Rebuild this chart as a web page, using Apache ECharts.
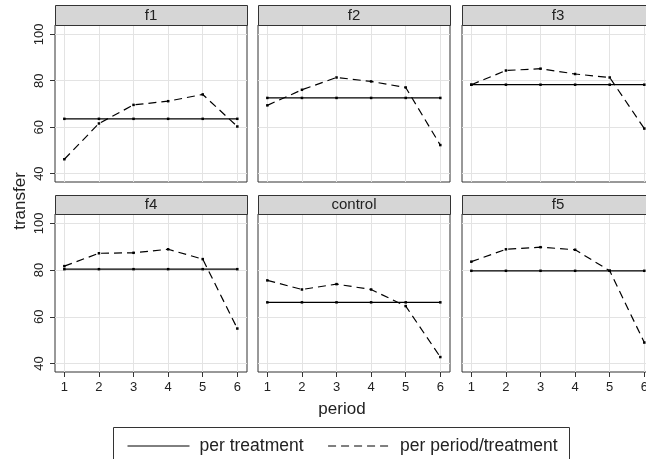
<!DOCTYPE html>
<html>
<head>
<meta charset="utf-8">
<script src="https://cdn.jsdelivr.net/npm/echarts@6/dist/echarts.min.js"></script>
<style>html,body{margin:0;padding:0;background:#fff}#c{width:646px;height:459px}</style>
</head>
<body>
<div id="c"></div>
<script>
// ---- data ----
const periods = [1, 2, 3, 4, 5, 6];
const panelNames = ['f1', 'f2', 'f3', 'f4', 'control', 'f5'];
const yTicks = [40, 60, 80, 100];
const perTreatment = [63.6, 72.6, 78.3, 80.4, 66.2, 79.7];
const perPeriodF1 = [46.2, 61.6, 69.6, 71.2, 74.1, 60.3];
const perPeriodF2 = [69.4, 76.1, 81.4, 79.7, 77.1, 52.3];
const perPeriodF3 = [78.3, 84.4, 85.2, 82.9, 81.4, 59.4];
const perPeriodF4 = [81.7, 87.2, 87.4, 88.9, 84.7, 55.0];
const perPeriodControl = [75.6, 71.7, 74.0, 71.7, 64.6, 42.8];
const perPeriodF5 = [83.6, 88.9, 89.8, 88.7, 79.7, 49.0];
const perPeriod = [perPeriodF1, perPeriodF2, perPeriodF3, perPeriodF4, perPeriodControl, perPeriodF5];

// ---- layout ----
const FONT = '"Liberation Sans", Arial, sans-serif';
const colLeft = [55, 258, 462];
const panelW = 192;
const rowTop = [25, 214];
const panelH = [157, 158];
const headerH = [20, 19];

const grids = [], xAxes = [], yAxes = [], series = [], graphics = [];
panelNames.forEach((name, i) => {
  const r = Math.floor(i / 3), c = i % 3;
  grids.push({left: colLeft[c], top: rowTop[r], width: panelW, height: panelH[r],
    outerBoundsMode: 'none', containLabel: false,
    show: true, borderColor: '#333', borderWidth: 1, backgroundColor: '#fff'});
  xAxes.push({type: 'value', gridIndex: i, min: 0.73, max: 6.28,
    axisLine: {show: false},
    axisTick: {show: r === 1, length: 5, lineStyle: {color: '#333'}, customValues: periods},
    axisLabel: {show: r === 1, customValues: periods, fontFamily: FONT, fontSize: 13, color: '#222', margin: 9},
    splitLine: {show: true, lineStyle: {color: '#e3e3e3', width: 1}}});
  yAxes.push({type: 'value', gridIndex: i, min: 36.4, max: 104,
    axisLine: {show: false},
    axisTick: {show: c === 0, length: 5, lineStyle: {color: '#333'}, customValues: yTicks},
    axisLabel: {show: c === 0, customValues: yTicks, rotate: 90, fontFamily: FONT, fontSize: 13, color: '#222', margin: 9},
    splitLine: {show: true, lineStyle: {color: '#e3e3e3', width: 1}}});
  series.push({name: 'per treatment', type: 'line', xAxisIndex: i, yAxisIndex: i,
    data: periods.map((p, k) => [p, perTreatment[i]]),
    symbol: 'rect', symbolSize: 2.5, itemStyle: {color: '#000'},
    lineStyle: {color: '#000', width: 1.2, type: 'solid'}, animation: false, silent: true});
  series.push({name: 'per period/treatment', type: 'line', xAxisIndex: i, yAxisIndex: i,
    data: periods.map((p, k) => [p, perPeriod[i][k]]),
    symbol: 'rect', symbolSize: 2.5, itemStyle: {color: '#000'},
    lineStyle: {color: '#000', width: 1.2, type: [8, 5]}, animation: false, silent: true});
  graphics.push({type: 'rect', shape: {x: colLeft[c] + 0.5, y: rowTop[r] - headerH[r] + 0.5, width: panelW, height: headerH[r]},
    style: {fill: '#d6d6d6', stroke: '#333', lineWidth: 1}, z: 10});
  graphics.push({type: 'text', x: colLeft[c] + panelW / 2, y: rowTop[r] - headerH[r] / 2 + 0.5,
    style: {text: name, font: '15px ' + FONT, fill: '#222', textAlign: 'center', textVerticalAlign: 'middle'}, z: 11});
});

graphics.push({type: 'text', x: 20, y: 201, rotation: Math.PI / 2,
  style: {text: 'transfer', font: '17px ' + FONT, fill: '#222', textAlign: 'center', textVerticalAlign: 'middle'}});
graphics.push({type: 'text', x: 342, y: 409,
  style: {text: 'period', font: '17px ' + FONT, fill: '#222', textAlign: 'center', textVerticalAlign: 'middle'}});
graphics.push({type: 'rect', shape: {x: 113.5, y: 427.5, width: 456, height: 34},
  style: {fill: 'none', stroke: '#333', lineWidth: 1}});

const chart = echarts.init(document.getElementById('c'), null, {renderer: 'canvas'});
chart.setOption({
  animation: false,
  grid: grids, xAxis: xAxes, yAxis: yAxes, series: series,
  legend: {data: ['per treatment', 'per period/treatment'], left: 122, top: 432, itemWidth: 62, itemHeight: 12,
    itemGap: 24, selectedMode: false, itemStyle: {opacity: 0}, lineStyle: {width: 1},
    textStyle: {fontFamily: FONT, fontSize: 17.5, color: '#222', padding: [0, 0, 0, 5]}},
  graphic: graphics
});
</script>
</body>
</html>
